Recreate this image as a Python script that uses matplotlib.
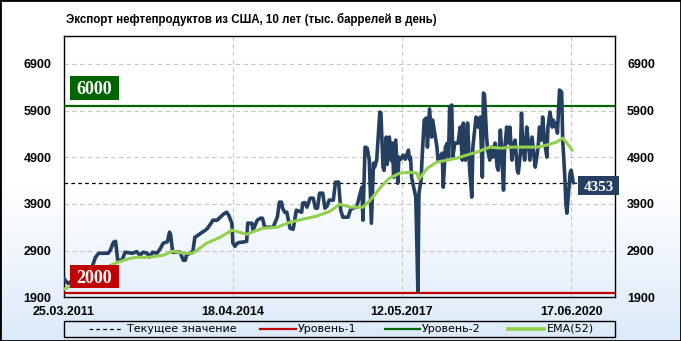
import numpy as np
import matplotlib
matplotlib.use('Agg')
import matplotlib.pyplot as plt
from matplotlib.patches import Rectangle
from matplotlib.lines import Line2D
import matplotlib.transforms as mtransforms

# ---------------- data ----------------
title = 'Экспорт нефтепродуктов из США, 10 лет (тыс. баррелей в день)'

week = [0, 2, 4, 10, 18, 25, 28, 30, 33, 42, 44, 47, 49, 51, 55, 58, 65, 69, 72, 75,
        79, 81, 84, 88, 91, 94, 98, 100, 101, 103, 107, 110, 113, 115, 116, 119, 122, 124, 127, 131,
        134, 136, 140, 141, 145, 148, 151, 154, 156, 159, 160, 162, 164, 167, 169, 173, 174, 178, 179, 183,
        186, 188, 190, 195, 198, 202, 204, 206, 207, 209, 211, 214, 217, 220, 225, 226, 228, 230, 233, 236,
        238, 240, 242, 245, 247, 249, 251, 255, 257, 260, 262, 264, 269, 271, 273, 277, 280, 282, 283, 285,
        287, 289, 291, 293, 294, 296, 299, 300, 302, 303, 305, 306, 308, 310, 311, 312, 314, 316, 317, 319,
        321, 323, 326, 327, 328, 329, 331, 333, 335, 336, 338, 339, 341, 343, 344, 346, 348, 349, 353, 354,
        358, 359, 361, 363, 364, 365, 367, 368, 370, 373, 375, 377, 378, 380, 381, 382, 384, 386, 387, 390,
        392, 394, 396, 397, 398, 400, 401, 403, 405, 406, 408, 410, 411, 413, 414, 416, 417, 419, 420, 422,
        424, 425, 427, 429, 430, 432, 433, 434, 436, 438, 439, 441, 443, 444, 446, 448, 449, 450, 452, 453,
        455, 457, 458, 460, 462, 463, 465, 466, 467, 469, 471, 472, 474, 475, 476, 477, 479, 480, 482]
value = [2307, 2242, 2199, 2280, 2330, 2450, 2629, 2758, 2844, 2844, 2908, 3080, 3100, 2694, 2694, 2866, 2844, 2880, 2801, 2866,
         2844, 2758, 2866, 2844, 2930, 3058, 3090, 3295, 3250, 2866, 2866, 2866, 2694, 2694, 2801, 2844, 2866, 3187, 3230, 3295,
         3338, 3380, 3509, 3552, 3552, 3617, 3681, 3724, 3660, 3488, 3058, 2994, 3058, 3080, 3080, 3100, 3488, 3488, 3338, 3552,
         3595, 3595, 3402, 3402, 3402, 3617, 3939, 3939, 3810, 3724, 3724, 3380, 3359, 3767, 3724, 3917, 3930, 3831, 4024, 4024,
         3810, 3810, 4132, 4132, 3810, 3850, 3982, 3982, 4368, 4368, 3767, 3617, 3617, 3767, 3810, 3831, 4089, 4260, 3552, 5119,
         5097, 4840, 3488, 4775, 4690, 4840, 5870, 5850, 4690, 4620, 5333, 4750, 5333, 4830, 5205, 4475, 5269, 4346, 4904, 4860,
         4947, 4860, 5054, 4860, 4904, 4475, 4260, 4046, 2030, 4132, 4411, 4904, 5698, 5741, 5119, 5935, 5333, 5698, 5119, 4840,
         4990, 4260, 5119, 5205, 4904, 5977, 6020, 4904, 5205, 5205, 5548, 4840, 5634, 4840, 5054, 5634, 4625, 4046, 5119, 5763,
         5548, 5763, 4475, 6278, 6235, 5333, 5054, 4840, 5119, 4904, 5205, 4690, 4625, 5484, 5119, 4196, 5054, 5548, 5205, 5548,
         4840, 5119, 5269, 4625, 4561, 4990, 5848, 5269, 4840, 5548, 5333, 4840, 5333, 5119, 4690, 4990, 5205, 5548, 5269, 5763,
         5205, 4904, 5548, 5870, 5548, 5698, 5548, 5634, 5419, 6342, 6300, 5269, 4475, 3917, 3702, 3982, 4561, 4625, 4353]

ema_week = [0, 4, 25, 51, 63, 69, 81, 94, 103, 113, 122, 135, 148, 159, 173, 188, 202, 214, 226, 239,
            252, 261, 271, 283, 290, 299, 308, 318, 327, 334, 336, 344, 353, 363, 372, 381, 391, 403, 413, 425,
            434, 448, 457, 466, 472, 476, 481]
ema_value = [2071, 2114, 2400, 2651, 2736, 2758, 2758, 2801, 2887, 2844, 2844, 3058, 3187, 3338, 3252, 3380, 3402, 3509, 3574, 3638,
             3745, 3896, 3831, 3831, 3982, 4239, 4454, 4561, 4582, 4561, 4432, 4668, 4797, 4840, 4883, 4947, 5012, 5119, 5097, 5119,
             5119, 5119, 5162, 5226, 5312, 5205, 5054]

level1 = 2000
level2 = 6000
current = 4353

y_ticks = [1900, 2900, 3900, 4900, 5900, 6900]
x_tick_pos = [0, 160, 320, 480]
x_tick_labels = ['25.03.2011', '18.04.2014', '12.05.2017', '17.06.2020']
legend_labels = ['Текущее значение', 'Уровень-1', 'Уровень-2', 'EMA(52)']

# ---------------- style ----------------
NAVY = '#243f60'
EMA_C = '#92d050'
RED = '#c00000'
GREEN = '#006400'

W, H = 681, 341
fig = plt.figure(figsize=(W / 100, H / 100), dpi=100)

# background gradient (white -> light blue at bottom)
bg = fig.add_axes([0, 0, 1, 1], zorder=-10)
rows = np.arange(H)
t = np.clip((rows - 185) / (H - 185), 0, 1)
top_c = np.array([1.0, 1.0, 1.0])
bot_c = np.array([0.86, 0.915, 0.975])
img = (top_c[None, :] * (1 - t[:, None]) + bot_c[None, :] * t[:, None])[:, None, :]
img = np.repeat(img, 2, axis=1)
bg.imshow(img, aspect='auto', extent=[0, 1, 0, 1], origin='upper')
bg.set_axis_off()

x0, x1, y0, y1 = 63.8, 614.5, 36.0, 297.3
ax = fig.add_axes([x0 / W, 1 - y1 / H, (x1 - x0) / W, (y1 - y0) / H])
ax.patch.set_alpha(0)
ax.set_xlim(0, 521)
ax.set_ylim(1900, 7500)

# grid
for yv in y_ticks[1:]:
    ax.axhline(yv, color='#c8c8c8', lw=0.8, ls=(0, (4, 3)), zorder=1)
for xv in x_tick_pos[1:]:
    ax.axvline(xv, color='#c8c8c8', lw=0.8, ls=(0, (4, 3)), zorder=1)

# current value dashed line
ax.axhline(current, color='black', lw=0.9, ls=(0, (3, 2.5)), zorder=2)
# levels
ax.axhline(level1, color=RED, lw=1.6, zorder=3)
ax.axhline(level2, color=GREEN, lw=1.6, zorder=3)

# series
ax.plot(week, value, color=NAVY, lw=2.6, solid_joinstyle='round', solid_capstyle='round', zorder=4)
ax.plot(ema_week, ema_value, color=EMA_C, lw=2.2, solid_joinstyle='round', zorder=5)

# ticks
ax.set_yticks(y_ticks)
ax.set_xticks(x_tick_pos)
ax.set_xticklabels(x_tick_labels)
ax.tick_params(axis='both', length=0)
ax.tick_params(axis='y', labelleft=True, labelright=True, pad=9)
ax.tick_params(axis='x', pad=6)
for lab in ax.get_xticklabels():
    lab.set_fontfamily('Liberation Sans')
    lab.set_fontweight('bold')
    lab.set_fontsize(9)
for tk in ax.yaxis.get_major_ticks():
    for l in (tk.label1, tk.label2):
        l.set_fontfamily('Liberation Sans')
        l.set_fontweight('bold')
        l.set_fontsize(9)

for sp in ax.spines.values():
    sp.set_color('black')
    sp.set_linewidth(1.0)

# level label boxes
blend = mtransforms.blended_transform_factory(ax.transAxes, ax.transData)
for lvl, col in ((level2, GREEN), (level1, RED)):
    lo = lvl + (130 if lvl == level2 else 100)
    hi = lvl + (645 if lvl == level2 else 595)
    ax.add_patch(Rectangle((0.0105, lo), 0.089, hi - lo, transform=blend,
                           facecolor=col, edgecolor='none', zorder=6))
    ax.text(0.055, (lo + hi) / 2, str(lvl), transform=blend, ha='center', va='center_baseline',
            color='white', fontsize=13, fontweight='bold', fontfamily='Liberation Serif', zorder=7)

# current value box
ax.add_patch(Rectangle((0.934, current - 262), 0.075, 405, transform=blend,
                       facecolor=NAVY, edgecolor='none', zorder=6, clip_on=False))
ax.text(0.9715, current - 60, str(current), transform=blend, ha='center', va='center_baseline',
        color='white', fontsize=11, fontweight='bold', fontfamily='Liberation Serif', zorder=7, clip_on=False)

# title
fig.text(66 / W, 1 - 19 / H, title, ha='left', va='center', fontsize=8.3, fontweight='bold',
         fontfamily='Liberation Sans', color='black')

# legend (manual)
ly0, ly1 = 320.5, 336.5
fig.add_artist(Rectangle((x0 / W, 1 - ly1 / H), (x1 - x0) / W, (ly1 - ly0) / H,
                         transform=fig.transFigure, fill=False, edgecolor='black', lw=1.0))
lyc = 1 - 328.5 / H
samples = [((89, 122), dict(color='black', lw=0.9, ls=(0, (3, 2.5)))),
           ((260, 296), dict(color=RED, lw=1.6)),
           ((385, 420), dict(color=GREEN, lw=1.6)),
           ((508, 544), dict(color=EMA_C, lw=2.6))]
text_x = [127, 298, 422, 547]
for ((sa, sb), kw), tx, lab in zip(samples, text_x, legend_labels):
    fig.add_artist(Line2D([sa / W, sb / W], [lyc, lyc], transform=fig.transFigure, **kw))
    fig.text(tx / W, lyc, lab, ha='left', va='center', fontsize=8, fontfamily='DejaVu Sans', color='black')

# outer border
fig.add_artist(Rectangle((0, 0), 1, 1, transform=fig.transFigure, fill=False, edgecolor='black', lw=2))

fig.savefig('out.png', dpi=100)
